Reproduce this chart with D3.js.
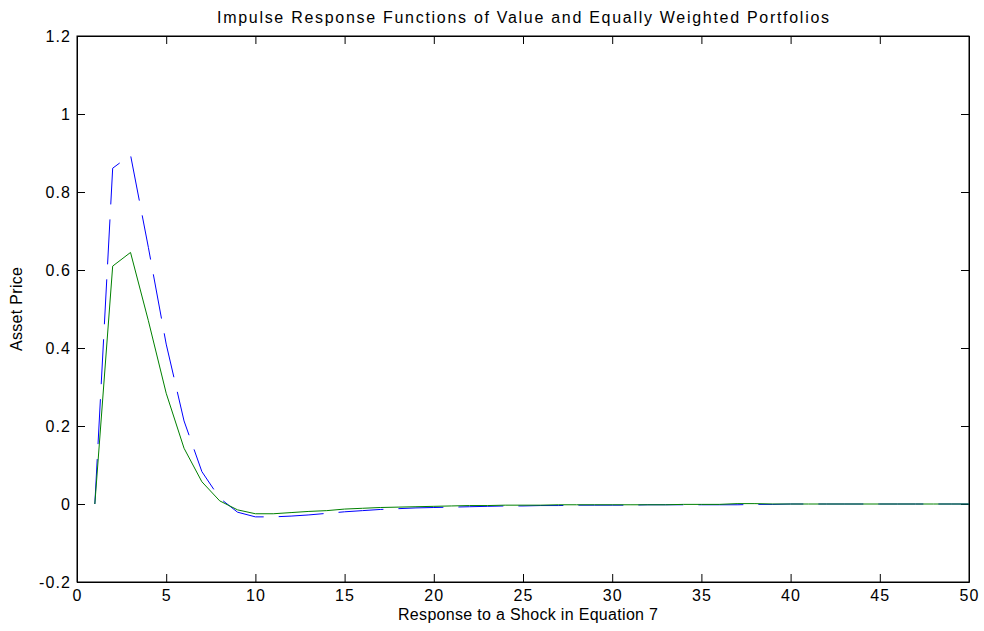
<!DOCTYPE html>
<html>
<head>
<meta charset="utf-8">
<script src="https://cdn.jsdelivr.net/npm/d3@7"></script>
<style>
  body { margin: 0; background: #fff; }
  svg text { font-family: "Liberation Sans", Arial, sans-serif; fill: #000; }
</style>
</head>
<body>
<svg id="chart"></svg>
<script>
const width = 984;
const height = 631;
const margin = {left: 77, right: 15, top: 36, bottom: 49};

// periods 1..50
const periods = d3.range(1, 51);

// value weighted (blue dashed)
const valueResp = [0, 0.861, 0.895, 0.658, 0.41, 0.213, 0.083, 0.015, -0.021, -0.033,
  -0.033, -0.031, -0.028, -0.024, -0.02, -0.017, -0.014, -0.012, -0.01, -0.009,
  -0.008, -0.007, -0.006, -0.005, -0.005, -0.004, -0.004, -0.003, -0.003, -0.003,
  -0.003, -0.002, -0.002, -0.002, -0.002, -0.002, -0.002, -0.001, -0.001, 0,
  0, 0, 0, 0, 0, 0, 0, 0, 0, 0];

// equally weighted (green solid)
const equalResp = [0, 0.61, 0.645, 0.47, 0.284, 0.143, 0.057, 0.008, -0.015, -0.025,
  -0.025, -0.022, -0.019, -0.017, -0.013, -0.011, -0.009, -0.008, -0.007, -0.006,
  -0.005, -0.004, -0.004, -0.003, -0.003, -0.003, -0.002, -0.002, -0.002, -0.002,
  -0.002, -0.002, -0.002, -0.001, -0.001, -0.001, 0.001, 0.001, 0, 0,
  0, 0, 0, 0, 0, 0, 0, 0, 0, 0];

const xTicks = [0, 5, 10, 15, 20, 25, 30, 35, 40, 45, 50];
const yTicks = [-0.2, 0, 0.2, 0.4, 0.6, 0.8, 1, 1.2];

const svg = d3.select('#chart')
  .attr('width', width)
  .attr('height', height);

const x = d3.scaleLinear().domain([0, 50]).range([margin.left, width - margin.right]);
const y = d3.scaleLinear().domain([-0.2, 1.2]).range([height - margin.bottom, margin.top]);

const fmt = d => d === 0 ? '0' : String(+d.toFixed(1));

// box
svg.append('rect')
  .attr('x', x(0)).attr('y', y(1.2))
  .attr('width', x(50) - x(0)).attr('height', y(-0.2) - y(1.2))
  .attr('fill', 'none').attr('stroke', '#000').attr('stroke-width', 1);

const xAxis = svg.append('g')
  .attr('transform', `translate(0, ${y(-0.2)})`)
  .call(d3.axisBottom(x).tickValues(xTicks).tickFormat(fmt).tickSizeInner(-8).tickSizeOuter(0).tickPadding(8));
const xAxisTop = svg.append('g')
  .attr('transform', `translate(0, ${y(1.2)})`)
  .call(d3.axisTop(x).tickValues(xTicks).tickFormat('').tickSizeInner(-8).tickSizeOuter(0));
const yAxis = svg.append('g')
  .attr('transform', `translate(${x(0)}, 0)`)
  .call(d3.axisLeft(y).tickValues(yTicks).tickFormat(fmt).tickSizeInner(-8).tickSizeOuter(0).tickPadding(6));
const yAxisRight = svg.append('g')
  .attr('transform', `translate(${x(50)}, 0)`)
  .call(d3.axisRight(y).tickValues(yTicks).tickFormat('').tickSizeInner(-8).tickSizeOuter(0));

[xAxis, xAxisTop, yAxis, yAxisRight].forEach(g => {
  g.select('.domain').attr('stroke', '#000');
  g.selectAll('.tick line').attr('stroke', '#000');
  g.selectAll('.tick text')
    .attr('font-size', 16)
    .attr('letter-spacing', 1.1)
    .attr('font-family', '"Liberation Sans", Arial, sans-serif');
});

const line = d3.line()
  .x((d, i) => x(periods[i]))
  .y(d => y(d));

svg.append('path')
  .datum(valueResp)
  .attr('fill', 'none')
  .attr('stroke', '#0000ff')
  .attr('stroke-width', 1)
  .attr('stroke-dasharray', '45,15')
  .attr('d', line);

svg.append('path')
  .datum(equalResp)
  .attr('fill', 'none')
  .attr('stroke', '#008000')
  .attr('stroke-width', 1)
  .attr('d', line);

// labels
svg.append('text')
  .attr('x', 217).attr('y', 23)
  .attr('font-size', 16)
  .attr('textLength', 612).attr('lengthAdjust', 'spacing')
  .text('Impulse Response Functions of Value and Equally Weighted Portfolios');

svg.append('text')
  .attr('x', 398).attr('y', 620)
  .attr('font-size', 16)
  .attr('textLength', 260).attr('lengthAdjust', 'spacing')
  .text('Response to a Shock in Equation 7');

svg.append('text')
  .attr('transform', `translate(22, ${(y(-0.2) + y(1.2)) / 2 + 42}) rotate(-90)`)
  .attr('font-size', 16)
  .attr('textLength', 84).attr('lengthAdjust', 'spacing')
  .text('Asset Price');
</script>
</body>
</html>
